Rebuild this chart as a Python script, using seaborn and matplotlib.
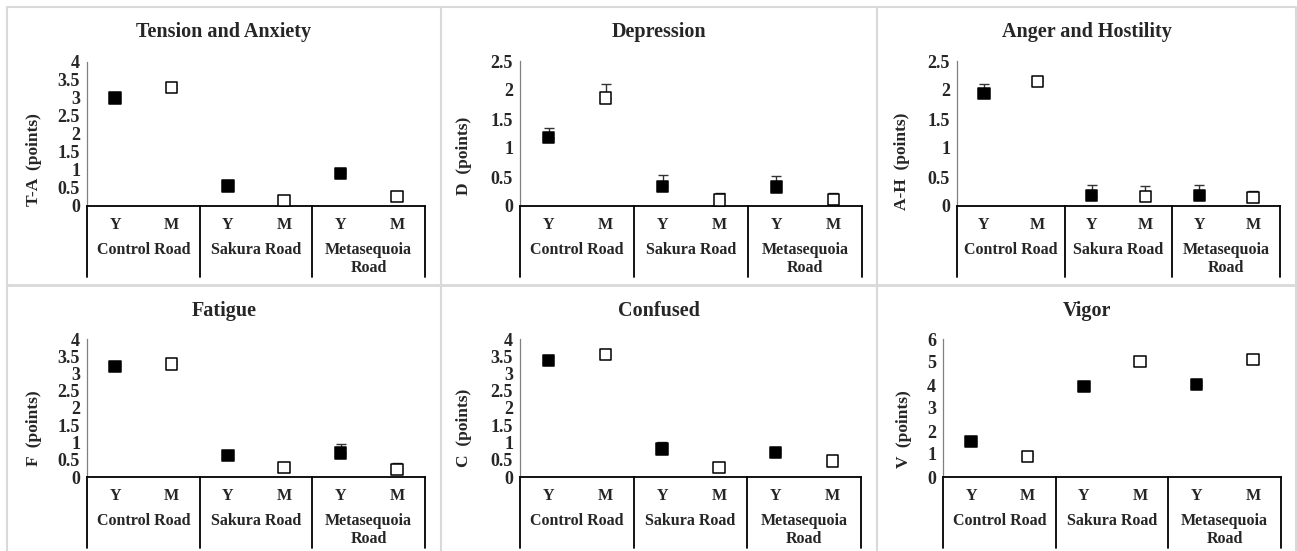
import numpy as np
import pandas as pd
import matplotlib.pyplot as plt
from matplotlib.lines import Line2D
import seaborn as sns

# Data
# --------------
roads = ["Control Road", "Sakura Road", "Metasequoia\nRoad"]
groups = ["Y", "M"]

titles = ["Tension and Anxiety", "Depression", "Anger and Hostility",
          "Fatigue", "Confused", "Vigor"]
ylabels = ["T-A  (points)", "D  (points)", "A-H  (points)",
           "F  (points)", "C  (points)", "V  (points)"]
ymax = [4, 2.5, 2.5, 4, 4, 6]
ystep = [0.5, 0.5, 0.5, 0.5, 0.5, 1]

# order: Control Y, Control M, Sakura Y, Sakura M, Metasequoia Y, Metasequoia M
ta_mean = [3.00, 3.29, 0.56, 0.16, 0.91, 0.26]
ta_err = [0.08, 0.08, 0.08, 0.05, 0.08, 0.06]
d_mean = [1.18, 1.86, 0.34, 0.10, 0.33, 0.11]
d_err = [0.16, 0.24, 0.20, 0.13, 0.19, 0.11]
ah_mean = [1.94, 2.15, 0.18, 0.16, 0.18, 0.15]
ah_err = [0.16, 0.06, 0.18, 0.18, 0.18, 0.11]
f_mean = [3.20, 3.27, 0.63, 0.27, 0.69, 0.21]
f_err = [0.08, 0.08, 0.08, 0.06, 0.26, 0.21]
c_mean = [3.38, 3.55, 0.81, 0.28, 0.71, 0.46]
c_err = [0.14, 0.14, 0.21, 0.06, 0.08, 0.08]
v_mean = [1.54, 0.90, 3.94, 5.03, 4.01, 5.12]
v_err = [0.12, 0.12, 0.12, 0.12, 0.12, 0.12]

means = [ta_mean, d_mean, ah_mean, f_mean, c_mean, v_mean]
errs = [ta_err, d_err, ah_err, f_err, c_err, v_err]

# Set-up
# --------------
sns.set_theme(style="white")
plt.rcParams["font.family"] = ["Liberation Serif", "DejaVu Serif"]
plt.rcParams["font.weight"] = "bold"

W, H = 1297, 551
fig = plt.figure(figsize=(W / 100, H / 100), dpi=100)

# axes boxes in pixels: (left, right, top, zero line, panel bottom)
boxes = [(87, 425, 62, 206, 277), (520, 862, 61, 206, 277), (957, 1280, 61, 206, 277),
         (87, 425, 339, 477, 548), (520, 861, 339, 477, 548), (943, 1281, 339, 477, 548)]
panel_x = [(7, 441), (441, 877), (877, 1296)]
title_y = [32, 311]
ylabel_off = [45, 48, 47, 45, 48, 31]
ylabel_drop = [26, 22, 28, 20, 20, 21]

# panel frames
grey = "#d9d9d9"
for x in [7, 441, 877, 1296]:
    fig.add_artist(Line2D([x / W, x / W], [0, 1 - 7 / H], color=grey, lw=1.5))
fig.add_artist(Line2D([7 / W, 1296 / W], [1 - 7 / H, 1 - 7 / H], color=grey, lw=1.5))
fig.add_artist(Line2D([7 / W, 1296 / W], [1 - 285 / H, 1 - 285 / H], color=grey, lw=2))

for i in range(6):
    l, r, t, z, b = boxes[i]
    ax = fig.add_axes([l / W, 1 - z / H, (r - l) / W, (z - t) / H])
    hpx = z - t

    df = pd.DataFrame({
        "slot": np.arange(6),
        "group": groups * 3,
        "mean": means[i],
        "err": errs[i],
    })

    ax.errorbar(df["slot"], df["mean"], yerr=[np.zeros(6), df["err"]], fmt="none",
                ecolor="#333333", elinewidth=1, capsize=3.3, capthick=1, zorder=2)
    sns.scatterplot(data=df, x="slot", y="mean", hue="group", palette={"Y": "black", "M": "white"},
                    marker="s", s=68, edgecolor="black", linewidth=1.1, legend=False,
                    zorder=3, clip_on=False, ax=ax)

    ax.set_xlim(-0.5, 5.5)
    ax.set_ylim(0, ymax[i])
    ticks = np.arange(0, ymax[i] + 1e-9, ystep[i])
    ax.set_yticks(ticks, [f"{v:g}" for v in ticks])
    ax.tick_params(axis="y", direction="in", length=4, width=0.8, color="#808080",
                   labelsize=13, pad=5)
    ax.set_xticks(range(6), groups * 3)
    ax.tick_params(axis="x", length=0, labelsize=11.5, pad=8)
    for lab in ax.get_xticklabels() + ax.get_yticklabels():
        lab.set_fontweight("bold")
    ax.set_xlabel("")
    ax.set_ylabel(ylabels[i], fontsize=12.5, fontweight="bold")
    ax.yaxis.set_label_coords(-ylabel_off[i] / (r - l), 0.5 - ylabel_drop[i] / hpx)

    for s in ["top", "right"]:
        ax.spines[s].set_visible(False)
    ax.spines["left"].set_color("#808080")
    ax.spines["left"].set_linewidth(0.9)
    ax.spines["bottom"].set_color("black")
    ax.spines["bottom"].set_linewidth(1.3)

    # road dividers and road names below the axis
    tr = ax.get_xaxis_transform()
    for xd in [-0.5, 1.5, 3.5, 5.5]:
        ax.add_line(Line2D([xd, xd], [0, -(b - z) / hpx], transform=tr, color="black",
                           lw=1.3, clip_on=False))
    for k, road in enumerate(roads):
        yoff = 53 if "\n" in road else 44
        ax.text(2 * k + 0.5, -yoff / hpx, road, transform=tr, ha="center", va="center",
                fontsize=11.5, fontweight="bold", linespacing=1.1)

    col = i % 3
    px0, px1 = panel_x[col]
    fig.text((px0 + px1) / 2 / W, 1 - title_y[i // 3] / H, titles[i], ha="center",
             va="center", fontsize=14.5, fontweight="bold")

fig.savefig("out.png", dpi=100, facecolor="white")
